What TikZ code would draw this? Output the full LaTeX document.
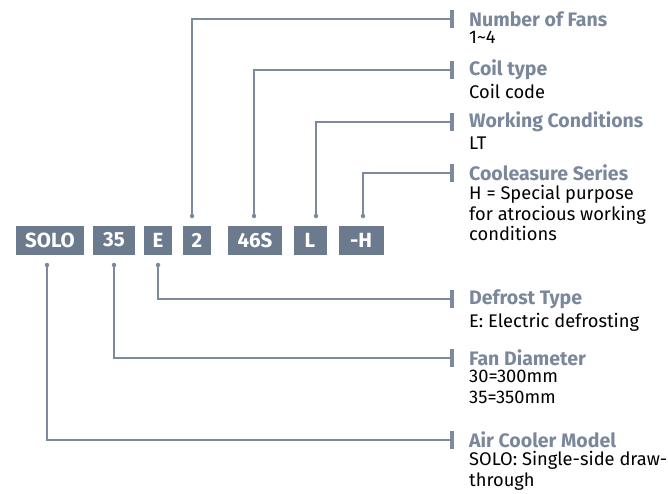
\documentclass[tikz,border=0pt]{standalone}
\usepackage{fontspec}
\setmainfont{Fira Sans}
\usetikzlibrary{positioning}
\definecolor{boxgray}{HTML}{6C7A8E}
\definecolor{linegray}{HTML}{7D899C}
\definecolor{headgray}{HTML}{7B879A}

\begin{document}
\begin{tikzpicture}[x=1pt, y=-1pt,
  code/.style={fill=boxgray, text=white, font=\bfseries\fontsize{20.5}{22}\selectfont, minimum height=29pt, inner sep=0pt},
  pin/.style={circle, fill=linegray, inner sep=0pt, minimum size=4.5pt},
  tick/.style={fill=linegray, inner sep=0pt, minimum width=3.5pt, minimum height=18pt},
  head/.style={text=headgray, font=\bfseries\fontsize{19.5}{21}\selectfont, inner sep=0pt, anchor=west},
  desc/.style={font=\fontsize{18.3}{20.5}\selectfont, align=left, inner sep=0pt},
  wire/.style={draw=linegray, line width=1.6pt}
]
\useasboundingbox (0,0) rectangle (668,493);

% model code boxes
\node[code, minimum width=68pt] (solo) at (50,240) {SOLO};
\node[code, minimum width=42pt] (dia) at (114,240) {35};
\node[code, minimum width=28pt] (def) at (158,240) {E};
\node[code, minimum width=28pt] (fans) at (197,240) {2};
\node[code, minimum width=54pt] (coil) at (255,240) {46S};
\node[code, minimum width=33pt] (cond) at (310,240) {L};
\node[code, minimum width=45pt] (ser) at (361,240) {-H};

% pins on the boxes
\node[pin] (pfans) at (192,216) {};
\node[pin] (pcoil) at (254,216) {};
\node[pin] (pcond) at (316,216) {};
\node[pin] (pser) at (363,216) {};
\node[pin] (pdef) at (158,265) {};
\node[pin] (pdia) at (114,265) {};
\node[pin] (psolo) at (47,265) {};

% ticks at the right
\node[tick] (tfans) at (452,19) {};
\node[tick] (tcoil) at (452,70) {};
\node[tick] (tcond) at (452,122) {};
\node[tick] (tser) at (452,173) {};
\node[tick] (tdef) at (452,299) {};
\node[tick] (tdia) at (452,358) {};
\node[tick] (tsolo) at (452,440) {};

% connectors
\draw[wire] (pfans) |- (tfans.west);
\draw[wire] (pcoil) |- (tcoil.west);
\draw[wire] (pcond) |- (tcond.west);
\draw[wire] (pser) |- (tser.west);
\draw[wire] (pdef) |- (tdef.west);
\draw[wire] (pdia) |- (tdia.west);
\draw[wire] (psolo) |- (tsolo.west);

% descriptions
\node[head] (hfans) at (469,19) {Number of Fans};
\node[desc, below right=4pt and 0pt of hfans.south west] (dfans) {1\textasciitilde4};
\node[head] (hcoil) at (469,70) {Coil type};
\node[desc, below right=4pt and 0pt of hcoil.south west] (dcoil) {Coil code};
\node[head] (hcond) at (469,122) {Working Conditions};
\node[desc, below right=4pt and 0pt of hcond.south west] (dcond) {LT};
\node[head] (hser) at (469,173) {Cooleasure Series};
\node[desc, below right=4pt and 0pt of hser.south west] (dser) {H = Special purpose\\for atrocious working\\conditions};
\node[head] (hdef) at (469,299) {Defrost Type};
\node[desc, below right=4pt and 0pt of hdef.south west] (ddef) {E: Electric defrosting};
\node[head] (hdia) at (469,358) {Fan Diameter};
\node[desc, below right=4pt and 0pt of hdia.south west] (ddia) {30=300mm\\35=350mm};
\node[head] (hsolo) at (469,440) {Air Cooler Model};
\node[desc, below right=3pt and 0pt of hsolo.south west] (dsolo) {SOLO: Single-side draw-\\through};

\end{tikzpicture}
\end{document}
